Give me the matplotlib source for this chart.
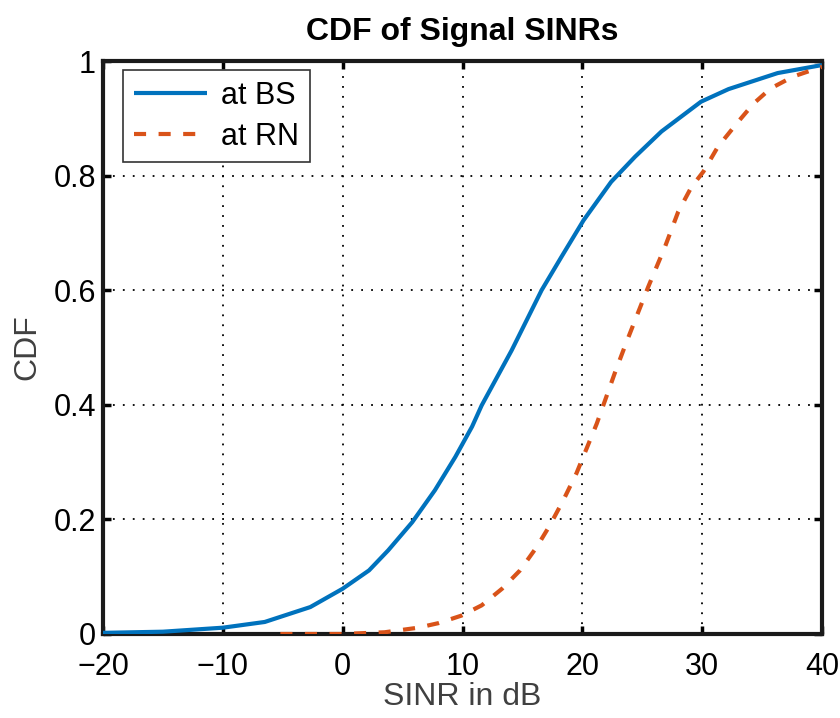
import numpy as np
import matplotlib
matplotlib.use("Agg")
import matplotlib.pyplot as plt

plt.rcParams["font.family"] = ["Liberation Sans", "DejaVu Sans"]

# CDF, SINR in dB
sinr_bs = [-20, -15, -10, -6.5, -2.7, 0, 2.2, 3.8, 5.8, 7.7, 9.4, 10.8, 11.6,
           14.1, 16.6, 18.25, 20.1, 22.4, 24.4, 26.6, 29.9, 32.2, 36.3, 40]
cdf_bs = [0.002, 0.004, 0.011, 0.021, 0.047, 0.079, 0.111, 0.146, 0.195, 0.251,
          0.309, 0.362, 0.399, 0.495, 0.6, 0.658, 0.722, 0.789, 0.833, 0.877,
          0.929, 0.951, 0.979, 0.993]

sinr_rn = [-5.2, 0, 3.5, 6.3, 8.0, 9.9, 11.6, 13.3, 14.8, 16.2, 17.3, 18.4,
           19.5, 20.4, 21.2, 21.9, 22.7, 23.6, 24.5, 25.5, 26.9, 28.0, 29.1,
           30.1, 31.3, 33.0, 34.3, 35.7, 37.6, 40]
cdf_rn = [0.0, 0.0, 0.003, 0.011, 0.019, 0.032, 0.05, 0.079, 0.111, 0.152,
          0.19, 0.233, 0.28, 0.326, 0.367, 0.408, 0.455, 0.505, 0.553, 0.606,
          0.676, 0.737, 0.78, 0.807, 0.85, 0.894, 0.926, 0.952, 0.973, 0.99]

x_ticks = [-20, -10, 0, 10, 20, 30, 40]
x_labels = ["\u221220", "\u221210", "0", "10", "20", "30", "40"]
y_ticks = [0, 0.2, 0.4, 0.6, 0.8, 1]
y_labels = ["0", "0.2", "0.4", "0.6", "0.8", "1"]

fig = plt.figure(figsize=(8.4, 7.18), dpi=100)
ax = fig.add_axes([0.1226, 0.117, 0.856, 0.798])

ax.plot(sinr_bs, cdf_bs, color="#0072BD", linewidth=3.0, label="at BS",
        solid_capstyle="butt", zorder=3)
ax.plot(sinr_rn, cdf_rn, color="#D95319", linewidth=3.0, label="at RN",
        linestyle=(0, (2.9, 3.0)), zorder=3)

ax.set_xlim(-20, 40)
ax.set_ylim(0, 1)
ax.set_xticks(x_ticks)
ax.set_xticklabels(x_labels)
ax.set_yticks(y_ticks)
ax.set_yticklabels(y_labels)

ax.grid(True, color="black", linestyle=(0, (1, 4.5)), linewidth=1.3)
ax.tick_params(direction="in", length=6, width=2.5, top=True, right=True,
               labelsize=22)
ax.tick_params(axis="x", pad=13)
ax.tick_params(axis="y", pad=5)
for s in ax.spines.values():
    s.set_linewidth(3)
    s.set_color("#1a1a1a")

ax.set_title("CDF of Signal SINRs", fontsize=23, fontweight="bold", pad=15)
ax.set_xlabel("SINR in dB", fontsize=23, color="#404040", labelpad=0)
ax.set_ylabel("CDF", fontsize=23, color="#404040", labelpad=8)

leg = ax.legend(loc="upper left", fontsize=22, frameon=True, fancybox=False,
                edgecolor="#333333", framealpha=1, handlelength=2.4,
                borderpad=0.35, labelspacing=0.35, handletextpad=0.45,
                borderaxespad=0, bbox_to_anchor=(0.028, 0.984))
leg.get_frame().set_linewidth(1.2)

fig.savefig("out.png", dpi=100, facecolor="white")
